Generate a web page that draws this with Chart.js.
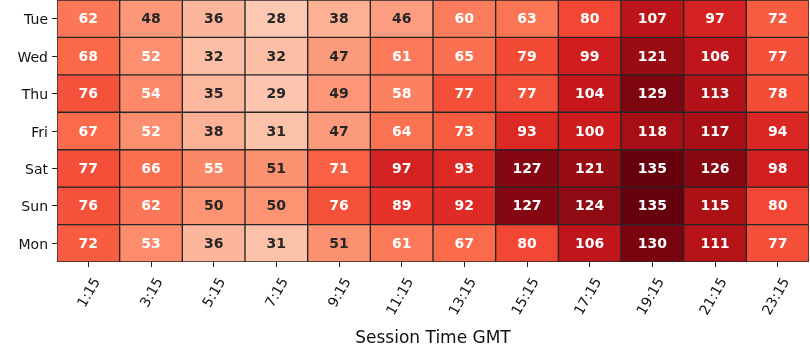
<!DOCTYPE html>
<html><head><meta charset="utf-8">
<script src="https://cdn.jsdelivr.net/npm/chart.js@4.4.1/dist/chart.umd.min.js"></script>
<style>html,body{margin:0;padding:0;background:#fff}canvas{display:block}</style>
</head><body>
<canvas id="c" width="810" height="360"></canvas>
<script>
const days = ['Tue','Wed','Thu','Fri','Sat','Sun','Mon'];
const times = ['1:15','3:15','5:15','7:15','9:15','11:15','13:15','15:15','17:15','19:15','21:15','23:15'];
const tue = [62,48,36,28,38,46,60,63,80,107,97,72];
const wed = [68,52,32,32,47,61,65,79,99,121,106,77];
const thu = [76,54,35,29,49,58,77,77,104,129,113,78];
const fri = [67,52,38,31,47,64,73,93,100,118,117,94];
const sat = [77,66,55,51,71,97,93,127,121,135,126,98];
const sun = [76,62,50,50,76,89,92,127,124,135,115,80];
const mon = [72,53,36,31,51,61,67,80,106,130,111,77];
const rows = [tue, wed, thu, fri, sat, sun, mon];

const vmin = 0, vmax = 135;
const reds = ['#fff5f0','#fee0d2','#fcbba1','#fc9272','#fb6a4a','#ef3b2c','#cb181d','#a50f15','#67000d'];
function hex(h){return [1,3,5].map(i=>parseInt(h.substr(i,2),16));}
const redsRGB = reds.map(hex);
function cmap(v){
  let t = (v - vmin) / (vmax - vmin);
  t = Math.max(0, Math.min(1, t));
  const s = t * (redsRGB.length - 1);
  const i = Math.min(Math.floor(s), redsRGB.length - 2);
  const f = s - i;
  const a = redsRGB[i], b = redsRGB[i+1];
  const c = a.map((x,k)=>Math.round(x + (b[k]-x)*f));
  return `rgb(${c[0]},${c[1]},${c[2]})`;
}
function textColor(v){ return (v - vmin)/(vmax - vmin) > 0.38 ? '#ffffff' : '#262626'; }

Chart.defaults.font.family = 'DejaVu Sans';

const annot = {
  id: 'annot',
  afterDatasetsDraw(chart){
    const ctx = chart.ctx;
    ctx.save();
    ctx.font = 'bold 14px "DejaVu Sans"';
    ctx.textAlign = 'center';
    ctx.textBaseline = 'middle';
    chart.data.datasets.forEach((ds, di) => {
      const meta = chart.getDatasetMeta(di);
      meta.data.forEach((el, i) => {
        const v = rows[di][i];
        const p = el.getCenterPoint();
        ctx.fillStyle = textColor(v);
        ctx.fillText(String(v), p.x, p.y + 1);
      });
    });
    ctx.restore();
  }
};

new Chart(document.getElementById('c'), {
  type: 'bar',
  data: {
    labels: times,
    datasets: rows.map((vals, r) => ({
      label: days[r],
      data: vals.map(() => [r, r + 1]),
      backgroundColor: vals.map(cmap),
      borderColor: '#262626',
      borderWidth: 1,
      borderSkipped: false,
      grouped: false,
      categoryPercentage: 1,
      barPercentage: 1
    }))
  },
  options: {
    responsive: false,
    animation: false,
    layout: { padding: { left: 0, right: 1, top: 0, bottom: 0 } },
    plugins: { legend: { display: false }, tooltip: { enabled: false } },
    scales: {
      x: {
        type: 'category',
        offset: true,
        grid: { display: true, drawOnChartArea: false, offset: false, color: '#222', tickLength: 5, tickWidth: 1 },
        border: { display: false },
        ticks: { minRotation: 60, maxRotation: 60, font: { size: 14 }, color: '#111', labelOffset: 9, padding: 8, autoSkip: false },
        title: { display: true, text: 'Session Time GMT', font: { size: 17 }, color: '#111', padding: { top: 4, bottom: 11 } },
        afterFit: s => { s.height = 98; s.paddingLeft = 0; s.paddingRight = 0; }
      },
      y: {
        type: 'linear',
        min: 0, max: 7,
        reverse: true,
        afterBuildTicks: s => { s.ticks = days.map((d, i) => ({ value: i + 0.5 })); },
        ticks: { callback: v => days[Math.floor(v)], font: { size: 14 }, color: '#111', padding: 4, labelOffset: 2, autoSkip: false },
        grid: { display: true, drawOnChartArea: false, color: '#222', tickLength: 5, tickWidth: 1 },
        border: { display: false },
        afterFit: s => { s.width = 57; s.paddingTop = 0; s.paddingBottom = 0; }
      }
    }
  },
  plugins: [annot]
});
</script>
</body></html>
